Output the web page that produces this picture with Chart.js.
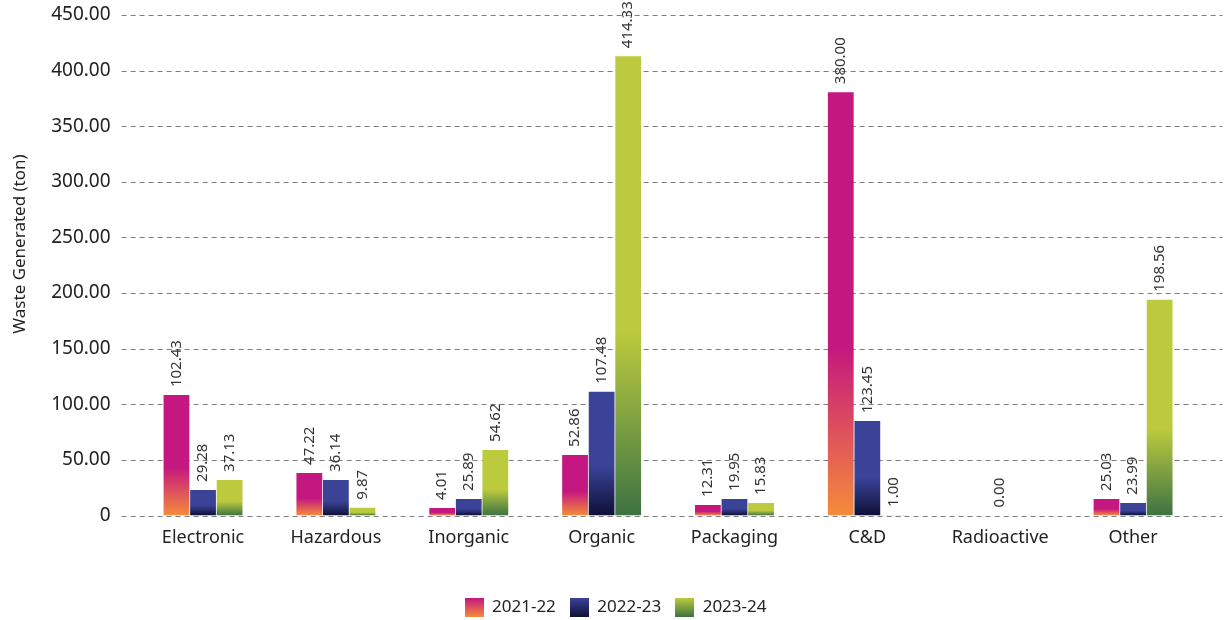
<!DOCTYPE html>
<html>
<head>
<meta charset="utf-8">
<script src="https://cdn.jsdelivr.net/npm/chart.js@4/dist/chart.umd.min.js"></script>
<style>
  html, body { margin: 0; padding: 0; background: #fff; }
  #wrap { width: 1231px; height: 620px; }
</style>
</head>
<body>
<div id="wrap"><canvas id="wasteChart"></canvas></div>
<script>
// Categories and series (bar heights, printed labels as shown)
const categories = ['Electronic', 'Hazardous', 'Inorganic', 'Organic', 'Packaging', 'C&D', 'Radioactive', 'Other'];
const seriesNames = ['2021-22', '2022-23', '2023-24'];

const fy2122 = [108.3, 38.3, 6.8, 54.5, 9.5, 380.6, 0, 14.9];
const fy2223 = [23.0, 32.0, 14.9, 111.3, 14.9, 85.0, 0, 11.3];
const fy2324 = [32.0, 7.0, 59.0, 413.0, 11.3, 0.5, 0, 194.0];

const fy2122Labels = ['102.43', '47.22', '4.01', '52.86', '12.31', '380.00', '', '25.03'];
const fy2223Labels = ['29.28', '36.14', '25.89', '107.48', '19.95', '123.45', '0.00', '23.99'];
const fy2324Labels = ['37.13', '9.87', '54.62', '414.33', '15.83', '1.00', '', '198.56'];

const yTicks = [0, 50, 100, 150, 200, 250, 300, 350, 400, 450];

const topColors = ['#c4177f', '#3b4399', '#bccb3e'];
const bottomColors = ['#f68b3a', '#0e1036', '#3d7343'];
const valueLabels = [fy2122Labels, fy2223Labels, fy2324Labels];

const FONT = '"Noto Sans", sans-serif';

// gradient per bar: solid on top, fading to the bottom colour near the base
const barGradient = (top, bottom) => (ctx) => {
    const chart = ctx.chart;
    if (ctx.type !== 'data' || !chart.chartArea) return top;
    const y = chart.scales.y;
    const yTop = y.getPixelForValue(ctx.raw);
    const yBase = y.getPixelForValue(0);
    if (yBase - yTop < 1) return top;
    const g = chart.ctx.createLinearGradient(0, yTop, 0, yBase);
    g.addColorStop(0, top);
    g.addColorStop(0.6, top);
    g.addColorStop(1, bottom);
    return g;
};

const legendSwatch = (top, bottom) => {
    const c = document.createElement('canvas');
    c.width = 19;
    c.height = 19;
    const cx = c.getContext('2d');
    const g = cx.createLinearGradient(0, 0, 0, 19);
    g.addColorStop(0, top);
    g.addColorStop(1, bottom);
    cx.fillStyle = g;
    cx.fillRect(0, 0, 19, 19);
    return c;
};

// dashed horizontal grid, a bit wider than the plot area
const dashedGrid = {
    id: 'dashedGrid',
    beforeDatasetsDraw(chart) {
        const { ctx, chartArea, scales } = chart;
        ctx.save();
        ctx.strokeStyle = '#7d7d7d';
        ctx.lineWidth = 1;
        ctx.setLineDash([5, 4]);
        scales.y.ticks.forEach(t => {
            const py = Math.round(scales.y.getPixelForValue(t.value)) + 0.5;
            ctx.beginPath();
            ctx.moveTo(chartArea.left - 15, py);
            ctx.lineTo(chartArea.right + 23, py);
            ctx.stroke();
        });
        ctx.restore();
    }
};

// rotated value labels above each bar
const barLabels = {
    id: 'barLabels',
    afterDatasetsDraw(chart) {
        const ctx = chart.ctx;
        ctx.save();
        ctx.font = '15px ' + FONT;
        ctx.fillStyle = '#333';
        ctx.textAlign = 'left';
        ctx.textBaseline = 'middle';
        chart.data.datasets.forEach((ds, i) => {
            chart.getDatasetMeta(i).data.forEach((bar, j) => {
                const text = valueLabels[i][j];
                if (!text) return;
                ctx.save();
                ctx.translate(bar.x, bar.y - 8);
                ctx.rotate(-Math.PI / 2);
                ctx.fillText(text, 0, 0);
                ctx.restore();
            });
        });
        ctx.restore();
    }
};

// y axis title
const yTitle = {
    id: 'yTitle',
    afterDraw(chart) {
        const ctx = chart.ctx;
        ctx.save();
        ctx.font = '17px ' + FONT;
        ctx.fillStyle = '#222';
        ctx.textAlign = 'center';
        ctx.textBaseline = 'middle';
        ctx.translate(20, 244);
        ctx.rotate(-Math.PI / 2);
        ctx.fillText('Waste Generated (ton)', 0, 0);
        ctx.restore();
    }
};

const seriesData = [fy2122, fy2223, fy2324];

new Chart(document.getElementById('wasteChart'), {
    type: 'bar',
    data: {
        labels: categories,
        datasets: seriesNames.map((name, i) => ({
            label: name,
            data: seriesData[i],
            backgroundColor: barGradient(topColors[i], bottomColors[i]),
            borderWidth: 0,
            categoryPercentage: 0.6,
            barPercentage: 0.97
        }))
    },
    options: {
        responsive: true,
        maintainAspectRatio: false,
        animation: false,
        layout: { padding: { left: 31.5, right: 31.5, top: 15, bottom: -6 } },
        plugins: {
            tooltip: { enabled: false },
            legend: {
                position: 'bottom',
                labels: {
                    usePointStyle: true,
                    pointStyleWidth: 19,
                    padding: 14,
                    color: '#222',
                    font: { family: FONT, size: 17 },
                    generateLabels: (chart) => chart.data.datasets.map((ds, i) => ({
                        text: ds.label,
                        pointStyle: legendSwatch(topColors[i], bottomColors[i]),
                        fillStyle: topColors[i],
                        strokeStyle: 'transparent',
                        lineWidth: 0,
                        fontColor: '#222',
                        hidden: false,
                        datasetIndex: i
                    }))
                }
            }
        },
        scales: {
            x: {
                grid: { display: false, drawTicks: false },
                border: { display: false },
                ticks: { color: '#222', padding: 12, font: { family: FONT, size: 18 } },
                afterFit: (scale) => { scale.height = 69.5; }
            },
            y: {
                min: 0,
                max: 450,
                grid: { display: false, drawTicks: false },
                border: { display: false },
                afterBuildTicks: (scale) => { scale.ticks = yTicks.map(v => ({ value: v })); },
                ticks: {
                    color: '#222',
                    padding: 26,
                    font: { family: FONT, size: 19 },
                    callback: v => v === 0 ? '0' : v.toFixed(2)
                },
                afterFit: (scale) => {
                    scale.width = 105.1;
                    scale.paddingTop = 0;
                    scale.paddingBottom = 0;
                }
            }
        }
    },
    plugins: [dashedGrid, barLabels, yTitle]
});
</script>
</body>
</html>
